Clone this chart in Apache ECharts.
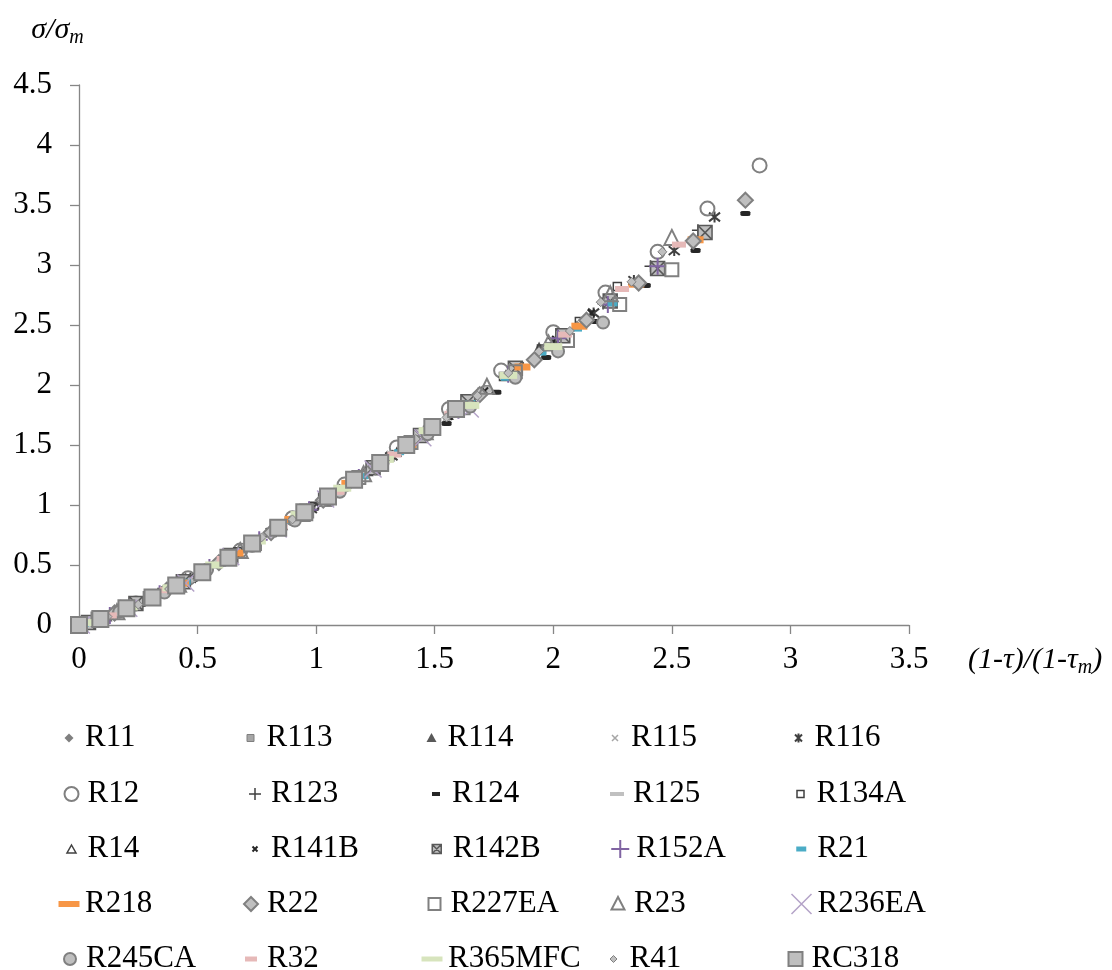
<!DOCTYPE html>
<html lang="en">
<head>
<meta charset="utf-8" />
<script src="https://cdn.jsdelivr.net/npm/echarts@6/dist/echarts.min.js"></script>
</head>
<body style="margin: 0; background: #fff">
<div id="container" style="width: 1112px; height: 970px"></div>
<script>
// values, [x, y] per point
const r11 = [[0.02,0.01],[0.15,0.10],[0.30,0.22],[0.45,0.37],[0.60,0.53],[0.75,0.70],[0.90,0.88],[1.05,1.06],[1.20,1.26],[1.35,1.45],[1.50,1.66],[1.65,1.87],[1.80,2.08],[1.95,2.29],[2.10,2.50],[2.22,2.68]];
const r113 = [[0.03,0.02],[0.16,0.11],[0.29,0.21],[0.42,0.34],[0.55,0.48],[0.68,0.62],[0.81,0.77],[0.94,0.93],[1.07,1.09],[1.20,1.26],[1.33,1.43],[1.46,1.60],[1.59,1.78],[1.72,1.97],[1.85,2.15],[1.98,2.33],[2.06,2.44]];
const r114 = [[0,0],[0.12,0.07],[0.24,0.17],[0.36,0.28],[0.48,0.40],[0.60,0.53],[0.72,0.66],[0.84,0.81],[0.96,0.95],[1.08,1.10],[1.20,1.26],[1.32,1.42],[1.44,1.58],[1.56,1.75],[1.68,1.92],[1.80,2.09],[1.94,2.32]];
const r115 = [[0.01,0.00],[0.15,0.10],[0.29,0.21],[0.43,0.35],[0.57,0.50],[0.71,0.65],[0.85,0.82],[0.99,0.99],[1.13,1.17],[1.27,1.35],[1.41,1.54],[1.55,1.73],[1.69,1.93],[1.83,2.13]];
const r116 = [[0.13,0.08],[0.30,0.23],[0.47,0.39],[0.64,0.58],[0.81,0.77],[0.98,0.97],[1.15,1.19],[1.32,1.41],[1.49,1.64],[1.66,1.88],[1.83,2.12],[2.00,2.36],[2.17,2.60],[2.34,2.87],[2.51,3.12],[2.68,3.40]];
const r12 = [[0.02,0.01],[0.24,0.18],[0.46,0.39],[0.68,0.62],[0.90,0.89],[1.12,1.17],[1.34,1.48],[1.56,1.80],[1.78,2.12],[2.00,2.44],[2.22,2.77],[2.44,3.11],[2.65,3.47],[2.87,3.83]];
const r123 = [[0.01,0.00],[0.21,0.14],[0.41,0.33],[0.61,0.54],[0.81,0.77],[1.01,1.01],[1.21,1.27],[1.41,1.53],[1.61,1.81],[1.81,2.09],[2.01,2.37],[2.21,2.68],[2.41,2.99],[2.61,3.29]];
const r124 = [[0.08,0.04],[0.29,0.20],[0.50,0.41],[0.71,0.64],[0.92,0.89],[1.13,1.16],[1.34,1.42],[1.55,1.68],[1.76,1.94],[1.97,2.23],[2.18,2.53],[2.39,2.83],[2.60,3.12],[2.81,3.43]];
const r125 = [[0.08,0.04],[0.21,0.14],[0.33,0.25],[0.46,0.38],[0.58,0.51],[0.71,0.65],[0.83,0.79],[0.96,0.95],[1.08,1.10],[1.21,1.27],[1.33,1.43],[1.46,1.61],[1.58,1.78],[1.71,1.96]];
const r134a = [[0.03,0.02],[0.19,0.13],[0.35,0.27],[0.51,0.43],[0.67,0.61],[0.83,0.80],[0.99,0.99],[1.15,1.19],[1.31,1.40],[1.47,1.62],[1.63,1.84],[1.79,2.07],[1.95,2.30],[2.11,2.53],[2.27,2.82]];
const r14 = [[0.02,0.01],[0.14,0.09],[0.26,0.19],[0.38,0.30],[0.50,0.42],[0.62,0.55],[0.74,0.69],[0.86,0.83],[0.98,0.98],[1.10,1.13],[1.22,1.28],[1.34,1.44],[1.46,1.61],[1.58,1.77],[1.70,1.95],[1.82,2.12]];
const r141b = [[0.06,0.04],[0.21,0.15],[0.36,0.28],[0.51,0.43],[0.66,0.60],[0.81,0.77],[0.96,0.95],[1.11,1.14],[1.26,1.34],[1.41,1.53],[1.56,1.74],[1.71,1.95],[1.86,2.16],[2.01,2.38],[2.16,2.60]];
const r142b = [[0.04,0.02],[0.24,0.18],[0.44,0.36],[0.64,0.58],[0.84,0.81],[1.04,1.05],[1.24,1.31],[1.44,1.58],[1.64,1.86],[1.84,2.14],[2.04,2.41],[2.24,2.70],[2.44,2.97],[2.64,3.27]];
const r152a = [[0.13,0.08],[0.34,0.26],[0.55,0.48],[0.76,0.71],[0.97,0.96],[1.18,1.23],[1.39,1.50],[1.60,1.79],[1.81,2.09],[2.02,2.39],[2.23,2.67],[2.44,2.99]];
const r21 = [[0.02,0.01],[0.15,0.09],[0.30,0.21],[0.45,0.36],[0.60,0.52],[0.75,0.69],[0.90,0.87],[1.05,1.05],[1.20,1.24],[1.35,1.44],[1.50,1.64],[1.65,1.85],[1.80,2.06],[1.95,2.27],[2.10,2.47],[2.25,2.68]];
const r218 = [[0.18,0.12],[0.43,0.35],[0.66,0.60],[0.90,0.88],[1.14,1.18],[1.39,1.50],[1.63,1.83],[1.87,2.15],[2.11,2.49],[2.35,2.84],[2.60,3.21]];
const r22 = [[0.15,0.10],[0.37,0.29],[0.59,0.52],[0.81,0.77],[1.03,1.04],[1.25,1.32],[1.47,1.61],[1.69,1.92],[1.92,2.21],[2.14,2.54],[2.36,2.85],[2.59,3.20],[2.81,3.54]];
const r227ea = [[0.08,0.05],[0.30,0.22],[0.52,0.44],[0.74,0.68],[0.96,0.95],[1.18,1.23],[1.40,1.52],[1.62,1.81],[1.84,2.11],[2.06,2.37],[2.28,2.67],[2.50,2.96]];
const r23 = [[0.16,0.11],[0.42,0.34],[0.68,0.62],[0.94,0.93],[1.20,1.26],[1.46,1.61],[1.72,1.99],[1.98,2.35],[2.24,2.76],[2.50,3.23]];
const r236ea = [[0.01,0.00],[0.21,0.14],[0.45,0.35],[0.64,0.57],[0.84,0.80],[1.04,1.05],[1.24,1.30],[1.45,1.56],[1.65,1.80]];
const r245ca = [[0.17,0.11],[0.36,0.27],[0.54,0.46],[0.73,0.66],[0.91,0.87],[1.10,1.11],[1.28,1.35],[1.47,1.59],[1.65,1.82],[1.84,2.06],[2.02,2.28],[2.21,2.52]];
const r32 = [[0.13,0.08],[0.37,0.29],[0.61,0.55],[0.85,0.82],[1.09,1.11],[1.33,1.42],[1.57,1.76],[1.81,2.08],[2.05,2.42],[2.29,2.80],[2.53,3.17]];
const r365mfc = [[0.03,0.02],[0.21,0.15],[0.39,0.31],[0.57,0.50],[0.75,0.70],[0.93,0.92],[1.11,1.14],[1.29,1.38],[1.47,1.62],[1.65,1.83],[1.81,2.08],[2.00,2.32]];
const r41 = [[0.12,0.07],[0.25,0.17],[0.38,0.30],[0.51,0.43],[0.64,0.58],[0.77,0.73],[0.90,0.88],[1.03,1.04],[1.16,1.20],[1.29,1.37],[1.42,1.55],[1.55,1.73],[1.68,1.91],[1.81,2.10],[1.94,2.28],[2.07,2.45],[2.20,2.69],[2.33,2.86],[2.46,3.11]];
const rc318 = [[0.00,0.00],[0.09,0.05],[0.20,0.14],[0.31,0.23],[0.41,0.33],[0.52,0.44],[0.63,0.56],[0.73,0.68],[0.84,0.81],[0.95,0.94],[1.05,1.07],[1.16,1.21],[1.27,1.35],[1.38,1.50],[1.49,1.65],[1.59,1.80]];

// legend layout: 5 rows of 5
const legendRows = [
  ["R11", "R113", "R114", "R115", "R116"],
  ["R12", "R123", "R124", "R125", "R134A"],
  ["R14", "R141B", "R142B", "R152A", "R21"],
  ["R218", "R22", "R227EA", "R23", "R236EA"],
  ["R245CA", "R32", "R365MFC", "R41", "RC318"],
];
const legendTop = [716, 772, 827, 882, 937];

const NONE = "rgba(0,0,0,0)";
const xPath = "path://M0,0L10,10M10,0L0,10";
const plusPath = "path://M5,0L5,10M0,5L10,5";
const starPath = "path://M1,1L9,9M9,1L1,9M5,0L5,10";
const boxXPath = "path://M0,0L10,0L10,10L0,10ZM0,0L10,10M10,0L0,10";
const pad = "path://M0,0M22,22"; // keeps legend icons inside a 22x22 box

// name, data, chart symbol, size, fill, stroke, stroke width, legend icon
const styles = [
  ["R11", r11, "diamond", 9, "#7f7f7f", "#7f7f7f", 0, "M11,6.5L15.5,11L11,15.5L6.5,11Z"],
  ["R113", r113, "rect", 6, "#a6a6a6", "#7f7f7f", 1, "M7.5,7.5H14.5V14.5H7.5Z"],
  ["R114", r114, "triangle", 10, "#595959", "#595959", 0, "M11,6L16,15L6,15Z"],
  ["R115", r115, xPath, 7, NONE, "#a6a6a6", 1.5, "M8,8L14,14M14,8L8,14"],
  ["R116", r116, starPath, 11, NONE, "#404040", 2, "M7.5,7.5L14.5,14.5M14.5,7.5L7.5,14.5M11,6.5L11,15.5"],
  ["R12", r12, "circle", 14, NONE, "#808080", 2, "M4,11A7,7 0 1 1 18,11A7,7 0 1 1 4,11Z"],
  ["R123", r123, plusPath, 12, NONE, "#404040", 1.5, "M5,11H17M11,5V17"],
  ["R124", r124, "roundRect", [10, 5], "#262626", "#262626", 0, "M7,9H15V13H7Z"],
  ["R125", r125, "rect", [15, 5], "#c0c0c0", "#c0c0c0", 0, "M4,9H18V13H4Z"],
  ["R134A", r134a, "rect", 8, NONE, "#404040", 1.5, "M7.5,7.5H14.5V14.5H7.5Z"],
  ["R14", r14, "triangle", 8, NONE, "#404040", 1.5, "M11,7L15.5,15L6.5,15Z"],
  ["R141B", r141b, xPath, 7, NONE, "#262626", 2, "M8.5,8.5L13.5,13.5M13.5,8.5L8.5,13.5"],
  ["R142B", r142b, boxXPath, 14, "#bfbfbf", "#595959", 1.5, "M6.5,6.5H15.5V15.5H6.5ZM6.5,6.5L15.5,15.5M15.5,6.5L6.5,15.5"],
  ["R152A", r152a, plusPath, 17, NONE, "#8064a2", 2, "M2,11H20M11,2V20"],
  ["R21", r21, "rect", [10, 6], "#4bacc6", "#4bacc6", 0, "M6,8.5H16V13.5H6Z"],
  ["R218", r218, "rect", [16, 7], "#f79646", "#f79646", 0, "M0.5,8H21.5V14H0.5Z"],
  ["R22", r22, "diamond", 15, "#bfbfbf", "#808080", 2, "M11,4L18,11L11,18L4,11Z"],
  ["R227EA", r227ea, "rect", 13, NONE, "#808080", 2, "M5,5H17V17H5Z"],
  ["R23", r23, "triangle", 15, NONE, "#808080", 2, "M11,4L17.5,16.5L4.5,16.5Z"],
  ["R236EA", r236ea, xPath, 17, NONE, "#b3a2c7", 1.5, "M1,1L21,21M21,1L1,21"],
  ["R245CA", r245ca, "circle", 12, "#bfbfbf", "#808080", 2, "M5,11A6,6 0 1 1 17,11A6,6 0 1 1 5,11Z"],
  ["R32", r32, "rect", [14, 6], "#e6b9b8", "#e6b9b8", 0, "M5,8.5H17V13.5H5Z"],
  ["R365MFC", r365mfc, "rect", [18, 7], "#d7e4bd", "#d7e4bd", 0, "M0.5,8.5H21.5V13.5H0.5Z"],
  ["R41", r41, "diamond", 9, "#bfbfbf", "#808080", 1, "M11,7.5L14.5,11L11,14.5L7.5,11Z"],
  ["RC318", rc318, "rect", 16, "#bfbfbf", "#808080", 2, "M4,4H18V18H4Z"],
];

const font = "Liberation Serif";
const axisColor = "#868686";

var dom = document.getElementById("container");
var myChart = echarts.init(dom, null, { renderer: "canvas" });

var series = styles.map(function (s) {
  return {
    name: s[0],
    type: "scatter",
    data: s[1],
    symbol: s[2],
    symbolSize: s[3],
    itemStyle: {
      color: s[4],
      borderColor: s[5],
      borderWidth: s[6],
      opacity: 1,
    },
    emphasis: { disabled: true },
  };
});

function legendItem(name) {
  var s = styles.find(function (t) { return t[0] === name; });
  return {
    name: name,
    icon: pad + s[7],
    itemStyle: {
      color: s[4] === NONE ? "none" : s[4],
      borderColor: s[5],
      borderWidth: s[6],
    },
  };
}

// one horizontal legend per row, fixed text width keeps the columns aligned
var legends = legendRows.map(function (row, i) {
  return {
    orient: "horizontal",
    left: 53,
    top: legendTop[i],
    itemWidth: 22,
    itemHeight: 22,
    itemGap: 0,
    selectedMode: false,
    data: row.map(legendItem),
    textStyle: {
      fontFamily: font,
      fontSize: 31,
      lineHeight: 34,
      width: 154,
      color: "#000",
    },
  };
});

var option = {
  animation: false,
  backgroundColor: "#fff",
  grid: { left: 79, right: 203, top: 85, bottom: 345 },
  legend: legends,
  xAxis: {
    type: "value",
    min: 0,
    max: 3.5,
    interval: 0.5,
    name: "{i|(1-τ)/(1-τ}{s|m}{i|)}",
    nameLocation: "end",
    nameGap: 59,
    nameTextStyle: {
      align: "left",
      verticalAlign: "middle",
      padding: [70, 0, 0, 0],
      rich: {
        i: { fontFamily: font, fontStyle: "italic", fontSize: 30, lineHeight: 36, color: "#000" },
        s: { fontFamily: font, fontStyle: "italic", fontSize: 20, lineHeight: 18, verticalAlign: "bottom", color: "#000" },
      },
    },
    axisLine: { lineStyle: { color: axisColor, width: 1.3 } },
    axisTick: { length: 9, lineStyle: { color: axisColor, width: 1.3 } },
    splitLine: { show: false },
    axisLabel: { fontFamily: font, fontSize: 31, color: "#000", margin: 19 },
  },
  yAxis: {
    type: "value",
    min: 0,
    max: 4.5,
    interval: 0.5,
    name: "{i|σ/σ}{s|m}",
    nameLocation: "end",
    nameGap: 37,
    nameTextStyle: {
      align: "center",
      padding: [0, 43, 0, 0],
      rich: {
        i: { fontFamily: font, fontStyle: "italic", fontSize: 30, lineHeight: 36, color: "#000" },
        s: { fontFamily: font, fontStyle: "italic", fontSize: 20, lineHeight: 18, verticalAlign: "bottom", color: "#000" },
      },
    },
    axisLine: { show: true, lineStyle: { color: axisColor, width: 1.3 } },
    axisTick: { show: true, length: 9, lineStyle: { color: axisColor, width: 1.3 } },
    splitLine: { show: false },
    axisLabel: { fontFamily: font, fontSize: 31, color: "#000", margin: 27 },
  },
  series: series,
};

myChart.setOption(option);
window.addEventListener("resize", myChart.resize);
</script>
</body>
</html>
